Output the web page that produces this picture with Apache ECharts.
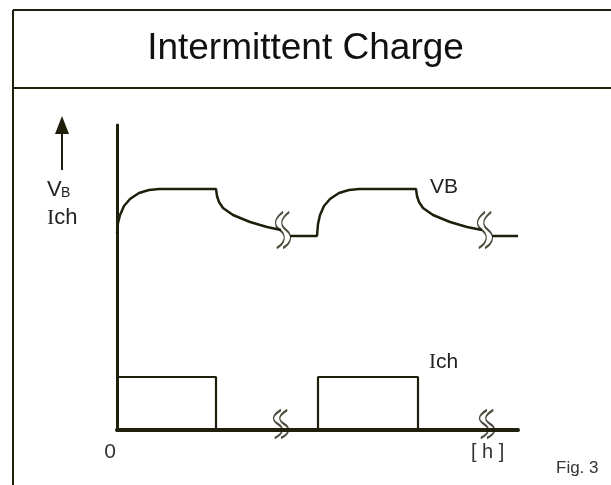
<!DOCTYPE html>
<html>
<head>
<meta charset="utf-8">
<script src="https://cdn.jsdelivr.net/npm/echarts@6/dist/echarts.min.js"></script>
<style>
  html, body { margin: 0; padding: 0; background: #fff; }
  #chart { width: 611px; height: 485px; }
</style>
</head>
<body>
<div id="chart"></div>
<script>
// time axis (arbitrary units) and level values
const xTickLabels = [0];

// battery voltage, split where the time axis is broken
const vbSegment1 = [
  [0, 197], [1, 207], [3, 215], [7, 224], [13, 231], [22, 237], [32, 240], [42, 241],
  [99, 241],
  [100, 234], [102, 228], [106, 222], [116, 215], [133, 208], [150, 203], [164, 200]
];
const vbSegment2 = [
  [173, 194], [200, 194],
  [201, 206], [203, 215], [207, 224], [213, 231], [222, 237], [232, 240], [242, 241],
  [299, 241],
  [300, 234], [302, 228], [306, 222], [316, 215], [333, 208], [350, 203], [365, 200]
];
const vbSegment3 = [[375, 194], [401, 194]];

// charge current (on / off)
const ichData = [
  [0, 53], [99, 53], [99, 0], [201, 0], [201, 53], [301, 53], [301, 0], [401, 0]
];

// "≈" break marks
const vbBreaks = [[166, 200], [368, 200]];
const axisBreaks = [[164, 6], [370, 6]];

const ink = '#1f1f0c';
const breakPath = 'path://M7,0C1,6 1,11 5,15C9,19 9,25 3,30M11,0C5,6 5,11 9,15C13,19 13,25 7,30';

function vbSeries(data) {
  return {
    type: 'line',
    data: data,
    symbol: 'none',
    silent: true,
    lineStyle: { color: ink, width: 2.5 }
  };
}

function breakSeries(data, size) {
  return {
    type: 'scatter',
    data: data,
    symbol: breakPath,
    symbolSize: size,
    symbolKeepAspect: false,
    silent: true,
    itemStyle: { color: 'none', borderColor: ink, borderWidth: 1.8 },
    z: 5
  };
}

const chart = echarts.init(document.getElementById('chart'));

chart.setOption({
  backgroundColor: '#fff',
  animation: false,
  title: {
    text: 'Intermittent Charge',
    left: 'center',
    top: 25,
    textStyle: { fontFamily: 'Liberation Sans', fontSize: 37, fontWeight: 'normal', color: '#111' }
  },
  grid: { left: 117, right: 93, top: 125, bottom: 55 },
  xAxis: {
    type: 'value',
    min: 0,
    max: 401,
    axisLine: { show: true, onZero: false, lineStyle: { color: ink, width: 4 } },
    axisTick: { show: false },
    splitLine: { show: false },
    axisLabel: {
      customValues: xTickLabels,
      margin: 12,
      padding: [0, 14, 0, 0],
      fontFamily: 'Liberation Sans',
      fontSize: 21,
      color: '#333'
    }
  },
  yAxis: {
    type: 'value',
    min: 0,
    max: 305,
    axisLine: { show: true, onZero: false, lineStyle: { color: ink, width: 3 } },
    axisTick: { show: false },
    splitLine: { show: false },
    axisLabel: { show: false }
  },
  series: [
    vbSeries(vbSegment1),
    vbSeries(vbSegment2),
    vbSeries(vbSegment3),
    {
      type: 'line',
      data: ichData,
      symbol: 'none',
      silent: true,
      lineStyle: { color: ink, width: 2.2 }
    },
    breakSeries(vbBreaks, [15, 36]),
    breakSeries(axisBreaks, [15, 28])
  ],
  graphic: [
    // outer frame and title divider
    { type: 'line', shape: { x1: 13, y1: 10, x2: 620, y2: 10 }, style: { stroke: ink, lineWidth: 2 } },
    { type: 'line', shape: { x1: 13, y1: 10, x2: 13, y2: 490 }, style: { stroke: ink, lineWidth: 2 } },
    { type: 'line', shape: { x1: 13, y1: 88, x2: 620, y2: 88 }, style: { stroke: ink, lineWidth: 2 } },
    // up arrow beside the y axis
    { type: 'line', shape: { x1: 62, y1: 170, x2: 62, y2: 130 }, style: { stroke: ink, lineWidth: 2 } },
    { type: 'polygon', shape: { points: [[55, 134], [69, 134], [62, 116]] }, style: { fill: ink } },
    { type: 'text', left: 47, top: 179, style: { text: 'V', font: '22px "Liberation Sans"', fill: '#222' } },
    { type: 'text', left: 61, top: 186, style: { text: 'B', font: '14px "Liberation Sans"', fill: '#222' } },
    {
      type: 'text', left: 47, top: 207,
      style: {
        text: '{s|I}ch',
        font: '22px "Liberation Sans"',
        fill: '#222',
        rich: { s: { fontFamily: 'Liberation Serif', fontSize: 22, fill: '#222' } }
      }
    },
    // series labels
    { type: 'text', left: 430, top: 177, style: { text: 'VB', font: '21px "Liberation Sans"', fill: '#222' } },
    {
      type: 'text', left: 429, top: 352,
      style: {
        text: '{s|I}ch',
        font: '21px "Liberation Sans"',
        fill: '#222',
        rich: { s: { fontFamily: 'Liberation Serif', fontSize: 21, fill: '#222' } }
      }
    },
    { type: 'text', left: 471, top: 442, style: { text: '[ h ]', font: '20px "Liberation Sans"', fill: '#333' } },
    { type: 'text', left: 556, top: 460, style: { text: 'Fig. 3', font: '17px "Liberation Sans"', fill: '#333' } }
  ]
});
</script>
</body>
</html>
